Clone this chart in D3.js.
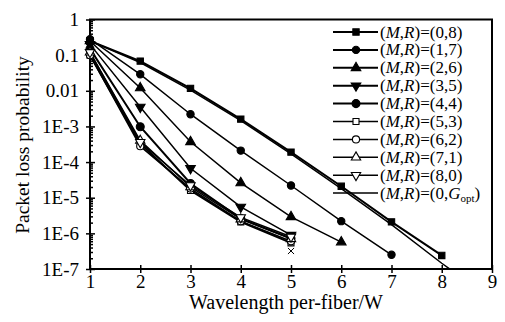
<!DOCTYPE html>
<html>
<head>
<meta charset="utf-8">
<script src="https://cdn.jsdelivr.net/npm/d3@7"></script>
<style>
  body { margin: 0; background: #fff; }
  text { font-family: "Liberation Serif", "DejaVu Serif", serif; fill: #000; }
</style>
</head>
<body>
<svg></svg>
<script>
// wavelengths per fiber (x values)
let wavelengths = [1, 2, 3, 4, 5, 6, 7, 8, 9]
let xTicks = [1, 2, 3, 4, 5, 6, 7, 8, 9]
let yTicks = [1, 0.1, 0.01, 1e-3, 1e-4, 1e-5, 1e-6, 1e-7]
let yTickLabels = ["1", "0.1", "0.01", "1E-3", "1E-4", "1E-5", "1E-6", "1E-7"]

// packet loss probability
let loss08 = [0.25, 0.068, 0.0117, 1.6e-3, 1.9e-4, 2.1e-5, 2.1e-6, 2.4e-7]
let loss17 = [0.28, 0.029, 2.2e-3, 2.1e-4, 2.2e-5, 2.2e-6, 2.5e-7]
let loss26 = [0.25, 0.012, 3.7e-4, 2.6e-5, 2.9e-6, 5.7e-7]
let loss35 = [0.2, 3.5e-3, 6.7e-5, 5.5e-6, 8.9e-7]
let loss44 = [0.15, 9.8e-4, 2.5e-5, 2.6e-6, 7.2e-7]
let loss53 = [0.1, 3.3e-4, 1.6e-5, 2.1e-6, 5.4e-7]
let loss62 = [0.1, 2.8e-4, 1.8e-5, 2.2e-6, 6.0e-7]
let loss71 = [0.12, 4.0e-4, 2.0e-5, 2.5e-6, 7.0e-7]
let loss80 = [0.12, 3.6e-4, 2.2e-5, 2.8e-6, 8.0e-7]
let lossOpt = [0.25, 0.062, 0.0105, 1.45e-3, 1.7e-4, 1.8e-5, 1.75e-6, 1.45e-7, 1.4e-8]

let seriesNames = ["(0,8)", "(1,7)", "(2,6)", "(3,5)", "(4,4)", "(5,3)", "(6,2)", "(7,1)", "(8,0)", "opt"]
let seriesValues = [loss08, loss17, loss26, loss35, loss44, loss53, loss62, loss71, loss80, lossOpt]

let width = 505
let height = 322
let plotLeft = 90, plotRight = 492, plotTop = 19.5, plotBottom = 269

let svg = d3.select("svg").attr("width", width).attr("height", height)

let xScale = d3.scaleLinear().domain([1, 9]).range([plotLeft, plotRight])
let yScale = d3.scaleLog().domain([1e-7, 1]).range([plotBottom, plotTop])

// marker style per series
let markers = [
  { type: d3.symbolSquare, size: 40, fill: "#000" },
  { type: d3.symbolCircle, size: 42, fill: "#000" },
  { type: d3.symbolTriangle, size: 40, fill: "#000" },
  { type: d3.symbolTriangle, size: 40, fill: "#000", rot: 180 },
  { type: d3.symbolCircle, size: 50, fill: "#000" },
  { type: d3.symbolSquare, size: 36, fill: "#fff" },
  { type: d3.symbolCircle, size: 40, fill: "#fff" },
  { type: d3.symbolTriangle, size: 38, fill: "#fff" },
  { type: d3.symbolTriangle, size: 38, fill: "#fff", rot: 180 },
  null
]
let lineWidths = [2, 1.5, 1.5, 1.5, 2, 2, 1.6, 1.5, 1.5, 1.5]

svg.append("clipPath").attr("id", "plot-clip")
   .append("rect")
   .attr("x", plotLeft).attr("y", plotTop)
   .attr("width", plotRight - plotLeft).attr("height", plotBottom - plotTop)

// axes
let minorTicks = []
for (let e = -7; e < 0; e++) {
  for (let m = 2; m <= 9; m++) minorTicks.push(m * Math.pow(10, e))
}

let yAxis = d3.axisLeft(yScale).tickValues(yTicks)
              .tickFormat((d, i) => yTickLabels[i]).tickSize(4).tickPadding(7)
svg.append("g")
   .attr("id", "y-axis")
   .attr("transform", "translate(" + plotLeft + ",0)")
   .call(yAxis)
   .call(g => g.selectAll("text").style("font-size", "19px"))
   .call(g => g.select(".domain").remove())

svg.append("g")
   .attr("transform", "translate(" + plotLeft + ",0)")
   .call(d3.axisRight(yScale).tickValues(minorTicks).tickSize(3).tickFormat(""))
   .call(g => g.select(".domain").remove())
svg.append("g")
   .attr("transform", "translate(" + plotLeft + ",0)")
   .call(d3.axisRight(yScale).tickValues(yTicks).tickSize(5).tickFormat(""))
   .call(g => g.select(".domain").remove())

let xAxis = d3.axisBottom(xScale).tickValues(xTicks).tickFormat(d3.format("d"))
              .tickSize(4).tickPadding(2)
svg.append("g")
   .attr("id", "x-axis")
   .attr("transform", "translate(0," + plotBottom + ")")
   .call(xAxis)
   .call(g => g.selectAll("text").style("font-size", "19px"))
   .call(g => g.select(".domain").remove())
svg.append("g")
   .attr("transform", "translate(0," + plotBottom + ")")
   .call(d3.axisTop(xScale).tickValues(xTicks).tickSize(4).tickFormat(""))
   .call(g => g.select(".domain").remove())

svg.selectAll(".tick line").attr("stroke", "#000").attr("stroke-width", 1.5)

// frame
svg.append("rect")
   .attr("x", plotLeft).attr("y", plotTop)
   .attr("width", plotRight - plotLeft).attr("height", plotBottom - plotTop)
   .attr("fill", "none").attr("stroke", "#000").attr("stroke-width", 2)

svg.append("text")
   .attr("x", 286).attr("y", 309)
   .attr("text-anchor", "middle")
   .style("font-size", "20px")
   .text("Wavelength per-fiber/W")

svg.append("text")
   .attr("transform", "translate(29,145) rotate(-90)")
   .attr("text-anchor", "middle")
   .style("font-size", "19.5px")
   .text("Packet loss probability")

// series
let line = d3.line()
             .x((d, i) => xScale(wavelengths[i]))
             .y(d => yScale(d))

let plot = svg.append("g").attr("clip-path", "url(#plot-clip)")

seriesValues.forEach((vals, s) => {
  plot.append("path")
      .attr("d", line(vals))
      .attr("fill", "none")
      .attr("stroke", "#000")
      .attr("stroke-width", lineWidths[s])
})

let drawMarker = (g, m, x, y) => {
  g.append("path")
   .attr("d", d3.symbol().type(m.type).size(m.size)())
   .attr("transform", "translate(" + x + "," + y + ")" + (m.rot ? " rotate(" + m.rot + ")" : ""))
   .attr("fill", m.fill)
   .attr("stroke", "#000")
   .attr("stroke-width", 1.1)
}

seriesValues.forEach((vals, s) => {
  if (!markers[s]) return
  vals.forEach((v, i) => drawMarker(svg, markers[s], xScale(wavelengths[i]), yScale(v)))
})

// small x at the end of the lowest bundle line
svg.append("path")
   .attr("d", d3.symbol().type(d3.symbolX).size(26)())
   .attr("transform", "translate(" + xScale(5) + "," + yScale(3.2e-7) + ")")
   .attr("stroke", "#000").attr("stroke-width", 1).attr("fill", "none")

// legend
let legend = svg.append("g")
seriesNames.forEach((name, i) => {
  let y = 32 + i * 17.9
  legend.append("line")
        .attr("x1", 333).attr("x2", 378).attr("y1", y).attr("y2", y)
        .attr("stroke", "#000").attr("stroke-width", i < 5 ? 2 : 1.5)
  if (markers[i]) drawMarker(legend, markers[i], 356, y)
  let t = legend.append("text")
                .attr("x", 380).attr("y", y + 5.5)
                .style("font-size", "17px")
  t.append("tspan").text("(")
  t.append("tspan").style("font-style", "italic").text("M")
  t.append("tspan").text(",")
  t.append("tspan").style("font-style", "italic").text("R")
  if (name === "opt") {
    t.append("tspan").text(")=(0,")
    t.append("tspan").style("font-style", "italic").text("G")
    t.append("tspan").attr("dy", 3).style("font-size", "11px").text("opt")
    t.append("tspan").attr("dy", -3).text(")")
  } else {
    t.append("tspan").text(")=" + name)
  }
})
</script>
</body>
</html>
